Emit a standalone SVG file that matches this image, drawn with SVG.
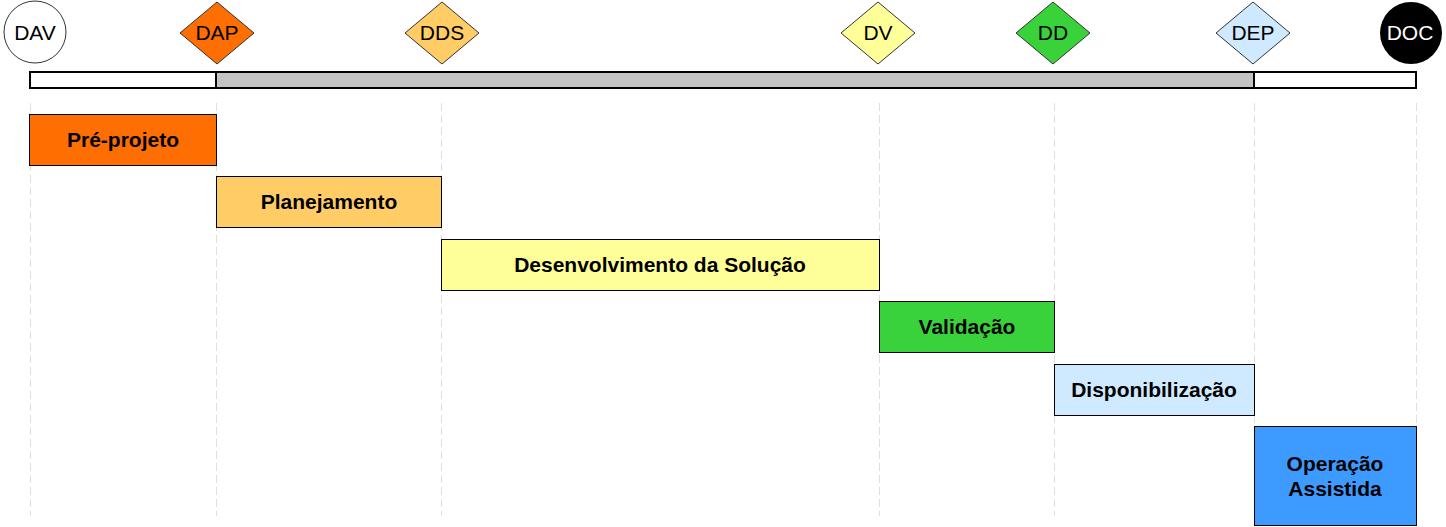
<svg xmlns="http://www.w3.org/2000/svg" width="1446" height="527" viewBox="0 0 1446 527">
<style>
.grid line{stroke:#e6ded3;stroke-width:1;stroke-dasharray:8,4}
.ms{stroke:#333;stroke-width:1}
.mt{font-family:"Liberation Sans",Arial,sans-serif;font-size:21px;text-anchor:middle;dominant-baseline:central}
.box{stroke:#000;stroke-width:1}
.bt{font-family:"Liberation Sans",Arial,sans-serif;font-size:21px;font-weight:bold;text-anchor:middle;dominant-baseline:central}
.bar{stroke:#000;stroke-width:2}
</style>
<rect width="1446" height="527" fill="#fff"/>
<g class="grid" id="connectors">
<line x1="30.5" y1="103" x2="30.5" y2="516"/>
<line x1="216.5" y1="103" x2="216.5" y2="516"/>
<line x1="441.5" y1="103" x2="441.5" y2="516"/>
<line x1="879.5" y1="103" x2="879.5" y2="516"/>
<line x1="1054.5" y1="103" x2="1054.5" y2="516"/>
<line x1="1254.5" y1="103" x2="1254.5" y2="516"/>
<line x1="1416.5" y1="103" x2="1416.5" y2="516"/>
</g>
<g id="timeline-bar">
<rect class="bar" x="30" y="72" width="186" height="16" fill="#fff"/>
<rect class="bar" x="216" y="72" width="1038" height="16" fill="#c3c3c3"/>
<rect class="bar" x="1254" y="72" width="162" height="16" fill="#fff"/>
</g>
<g id="DAV"><circle class="ms" cx="35" cy="32" r="31" fill="#fff"/><text class="mt" x="35" y="32">DAV</text></g>
<g id="DAP"><polygon class="ms" points="217,2 254,33 217,64 180,33" fill="#ff6e00"/><text class="mt" x="217" y="32">DAP</text></g>
<g id="DDS"><polygon class="ms" points="442,2 479,33 442,64 405,33" fill="#ffcc66"/><text class="mt" x="442" y="32">DDS</text></g>
<g id="DV"><polygon class="ms" points="878,2 915,33 878,64 841,33" fill="#ffff99"/><text class="mt" x="878" y="32">DV</text></g>
<g id="DD"><polygon class="ms" points="1053,2 1090,33 1053,64 1016,33" fill="#3ad23a"/><text class="mt" x="1053" y="32">DD</text></g>
<g id="DEP"><polygon class="ms" points="1253,2 1290,33 1253,64 1216,33" fill="#cfeaff"/><text class="mt" x="1253" y="32">DEP</text></g>
<g id="DOC"><circle cx="1411" cy="33" r="31" fill="#000"/><text class="mt" x="1410" y="32" fill="#fff">DOC</text></g>
<g id="pre-projeto"><rect class="box" x="29.5" y="114.5" width="187" height="51" fill="#ff6e00"/><text class="bt" x="123" y="139">Pré-projeto</text></g>
<g id="planejamento"><rect class="box" x="216.5" y="176.5" width="225" height="51" fill="#ffcc66"/><text class="bt" x="329" y="201">Planejamento</text></g>
<g id="desenvolvimento"><rect class="box" x="441.5" y="239.5" width="438" height="51" fill="#ffff99"/><text class="bt" x="660" y="264">Desenvolvimento da Solução</text></g>
<g id="validacao"><rect class="box" x="879.5" y="301.5" width="175" height="51" fill="#3ad23a"/><text class="bt" x="967" y="326">Validação</text></g>
<g id="disponibilizacao"><rect class="box" x="1054.5" y="364.5" width="200" height="51" fill="#cfeaff"/><text class="bt" x="1154" y="389">Disponibilização</text></g>
<g id="operacao"><rect class="box" x="1254.5" y="426.5" width="162" height="99" fill="#3d9bff"/><text class="bt" x="1335" y="463">Operação</text><text class="bt" x="1335" y="488">Assistida</text></g>
</svg>
